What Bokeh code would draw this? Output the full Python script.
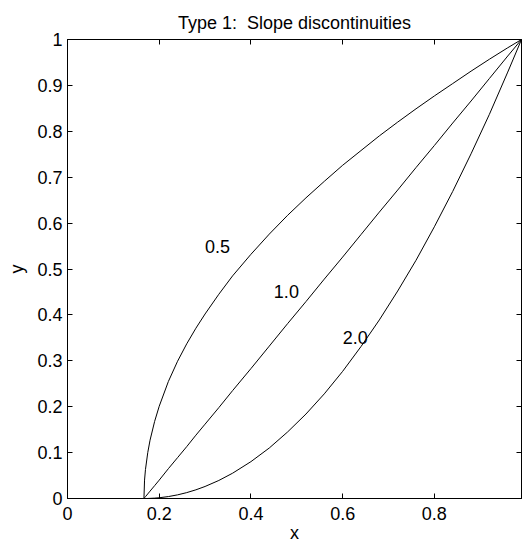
from bokeh.plotting import figure
from bokeh.models import FixedTicker, LinearAxis, Range1d
from bokeh.core.properties import value
from bokeh.embed import file_html
from bokeh.resources import INLINE

# Data
xs = [0.0, 0.1667, 0.168, 0.17, 0.175, 0.18, 0.19, 0.20, 0.22, 0.24, 0.26, 0.28, 0.30,
      0.33, 0.36, 0.40, 0.44, 0.48, 0.52, 0.56, 0.60, 0.64, 0.68, 0.72, 0.76, 0.80,
      0.84, 0.88, 0.92, 0.96, 0.99]
y_p05 = [0, 0, 0.040, 0.063, 0.100, 0.127, 0.168, 0.201, 0.255, 0.299, 0.337, 0.371, 0.402,
         0.445, 0.485, 0.532, 0.576, 0.617, 0.655, 0.691, 0.726, 0.758, 0.790, 0.820, 0.849,
         0.877, 0.904, 0.931, 0.957, 0.982, 1.0]
y_p10 = [0, 0, 0.0016, 0.004, 0.010, 0.016, 0.028, 0.040, 0.065, 0.089, 0.113, 0.138, 0.162,
         0.198, 0.235, 0.283, 0.332, 0.381, 0.429, 0.478, 0.526, 0.575, 0.624, 0.672, 0.721,
         0.769, 0.818, 0.866, 0.915, 0.964, 1.0]
y_p20 = [0, 0, 0, 0, 0.0001, 0.0003, 0.0008, 0.0016, 0.0042, 0.0079, 0.0128, 0.0189, 0.0262,
         0.0393, 0.0551, 0.0803, 0.110, 0.145, 0.184, 0.228, 0.277, 0.331, 0.389, 0.452, 0.519,
         0.592, 0.669, 0.751, 0.837, 0.929, 1.0]

curve_labels = ["0.5", "1.0", "2.0"]
label_x = [0.30, 0.45, 0.60]
label_y = [0.55, 0.45, 0.35]

x_ticks = [0, 0.2, 0.4, 0.6, 0.8]
x_tick_labels = ["0", "0.2", "0.4", "0.6", "0.8"]
y_ticks = [0, 0.1, 0.2, 0.3, 0.4, 0.5, 0.6, 0.7, 0.8, 0.9, 1.0]
y_tick_labels = ["0", "0.1", "0.2", "0.3", "0.4", "0.5", "0.6", "0.7", "0.8", "0.9", "1"]

FONT = "Liberation Sans"
FS = "18px"

p = figure(frame_width=454, frame_height=459, output_backend="svg", toolbar_location=None,
           x_range=Range1d(0, 0.99), y_range=Range1d(0, 1),
           min_border_left=67, min_border_right=1, min_border_top=39, min_border_bottom=46,
           title="Type 1:\u00a0 Slope discontinuities")
p.background_fill_color = "white"
p.border_fill_color = "white"
p.outline_line_color = "black"
p.outline_line_width = 1
p.xgrid.visible = False
p.ygrid.visible = False

p.title.align = "center"
p.title.offset = 3
p.title.text_font = FONT
p.title.text_font_size = FS
p.title.text_font_style = "normal"
p.title.text_color = "black"
p.title.standoff = 13

xa = p.below[0]
ya = p.left[0]
xa.axis_label = "x"
ya.axis_label = "y"
xa.ticker = FixedTicker(ticks=x_ticks)
ya.ticker = FixedTicker(ticks=y_ticks)
xa.major_label_overrides = dict(zip(x_ticks, x_tick_labels))
ya.major_label_overrides = dict(zip(y_ticks, y_tick_labels))

top = LinearAxis(ticker=FixedTicker(ticks=x_ticks))
right = LinearAxis(ticker=FixedTicker(ticks=y_ticks))
p.add_layout(top, "above")
p.add_layout(right, "right")

for ax in [xa, ya, top, right]:
    ax.major_tick_in = 5
    ax.major_tick_out = 0
    ax.minor_tick_in = 0
    ax.minor_tick_out = 0
    ax.axis_line_color = "black"
    ax.major_tick_line_color = "black"
    ax.major_label_text_font = FONT
    ax.axis_label_text_font = FONT
    ax.axis_label_text_font_size = FS
    ax.axis_label_text_font_style = "normal"
    ax.axis_label_text_color = "black"

for ax in [top, right]:
    ax.major_label_text_color = None
    ax.major_label_text_font_size = "1px"
    ax.major_label_standoff = 0
    ax.axis_label_standoff = 0

for ax in [xa, ya]:
    ax.major_label_text_font_size = FS
    ax.major_label_text_color = "black"

xa.major_label_standoff = 8
xa.axis_label_standoff = 0
ya.major_label_standoff = 5
ya.axis_label_standoff = 7

for ys in [y_p05, y_p10, y_p20]:
    p.line(xs, ys, line_color="black", line_width=1)

p.text(x=label_x, y=label_y, text=curve_labels, text_font=value(FONT),
       text_font_size=FS, text_align="left", text_baseline="middle", text_color="black")

open("out.html", "w").write(file_html(p, INLINE))
